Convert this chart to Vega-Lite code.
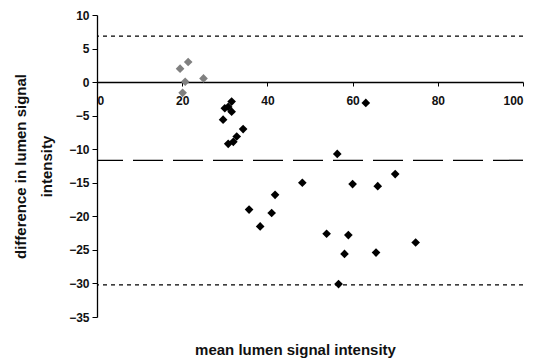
{
  "$schema": "https://vega.github.io/schema/vega-lite/v6.json",
  "autosize": {"type": "none"},
  "width": 426,
  "height": 302,
  "padding": {"left": 97, "top": 15, "right": 10, "bottom": 41},
  "background": "white",
  "config": {
    "view": {"stroke": null},
    "axis": {"labelFont": "Liberation Sans", "titleFont": "Liberation Sans", "labelColor": "#111", "titleColor": "#111", "domainColor": "#000", "tickColor": "#000", "grid": false, "labelOverlap": false}
  },
  "datasets": {
    "points": [
      {"mean": 19.5, "diff": 2.0, "grp": "a"},
      {"mean": 21.4, "diff": 3.0, "grp": "a"},
      {"mean": 20.7, "diff": 0.05, "grp": "a"},
      {"mean": 20.1, "diff": -1.6, "grp": "a"},
      {"mean": 25.0, "diff": 0.55, "grp": "a"},
      {"mean": 31.6, "diff": -2.9, "grp": "b"},
      {"mean": 30.8, "diff": -3.7, "grp": "b"},
      {"mean": 30.0, "diff": -3.9, "grp": "b"},
      {"mean": 31.6, "diff": -4.4, "grp": "b"},
      {"mean": 29.6, "diff": -5.6, "grp": "b"},
      {"mean": 34.3, "diff": -7.0, "grp": "b"},
      {"mean": 32.8, "diff": -8.1, "grp": "b"},
      {"mean": 32.0, "diff": -8.9, "grp": "b"},
      {"mean": 30.8, "diff": -9.2, "grp": "b"},
      {"mean": 63.1, "diff": -3.1, "grp": "b"},
      {"mean": 56.4, "diff": -10.7, "grp": "b"},
      {"mean": 70.0, "diff": -13.7, "grp": "b"},
      {"mean": 48.2, "diff": -15.0, "grp": "b"},
      {"mean": 60.0, "diff": -15.2, "grp": "b"},
      {"mean": 65.9, "diff": -15.5, "grp": "b"},
      {"mean": 41.8, "diff": -16.8, "grp": "b"},
      {"mean": 41.0, "diff": -19.5, "grp": "b"},
      {"mean": 35.7, "diff": -19.0, "grp": "b"},
      {"mean": 38.3, "diff": -21.5, "grp": "b"},
      {"mean": 53.9, "diff": -22.6, "grp": "b"},
      {"mean": 59.0, "diff": -22.8, "grp": "b"},
      {"mean": 74.8, "diff": -23.9, "grp": "b"},
      {"mean": 58.1, "diff": -25.6, "grp": "b"},
      {"mean": 65.5, "diff": -25.4, "grp": "b"},
      {"mean": 56.7, "diff": -30.1, "grp": "b"}
    ],
    "dotted": [{"diff": 6.85}, {"diff": -30.2}],
    "dashed": [{"diff": -11.65}]
  },
  "encoding": {
    "y": {
      "field": "diff", "type": "quantitative",
      "scale": {"domain": [-35, 10], "nice": false, "zero": false},
      "axis": {
        "values": [-35, -30, -25, -20, -15, -10, -5, 0, 5, 10],
        "tickCount": 10,
        "labelOverlap": false,
        "domainWidth": 1.3,
        "tickSize": 5,
        "labelFontSize": 12,
        "labelFontWeight": "bold",
        "labelPadding": 3,
        "title": ["difference in lumen signal", "intensity"],
        "titleFontSize": 15,
        "titleFontWeight": "bold",
        "titlePadding": 14,
        "titleLineHeight": 26
      }
    }
  },
  "layer": [
    {
      "data": {"name": "dotted"},
      "mark": {"type": "rule", "color": "#000", "strokeWidth": 1.3, "strokeDash": [4, 4]}
    },
    {
      "data": {"name": "dashed"},
      "mark": {"type": "rule", "color": "#000", "strokeWidth": 1.3, "strokeDash": [30, 10]}
    },
    {
      "data": {"name": "points"},
      "mark": {"type": "point", "shape": "diamond", "filled": true, "size": 75, "opacity": 1, "zindex": 2},
      "encoding": {
        "x": {
          "field": "mean", "type": "quantitative",
          "scale": {"domain": [0, 100], "nice": false},
          "axis": {
            "values": [0, 20, 40, 60, 80, 100],
            "tickCount": 6,
            "labelOverlap": false,
            "offset": -235,
            "zindex": 0,
            "domainWidth": 1.3,
            "tickSize": 4,
            "labelFontSize": 12,
            "labelFontWeight": "bold",
            "labelPadding": 9,
            "title": "mean lumen signal intensity",
            "titleFontSize": 15,
            "titleFontWeight": "bold",
            "titleY": 260,
            "titleX": 198
          }
        },
        "color": {
          "field": "grp", "type": "nominal",
          "scale": {"domain": ["a", "b"], "range": ["#808080", "#000000"]},
          "legend": null
        }
      }
    }
  ]
}
